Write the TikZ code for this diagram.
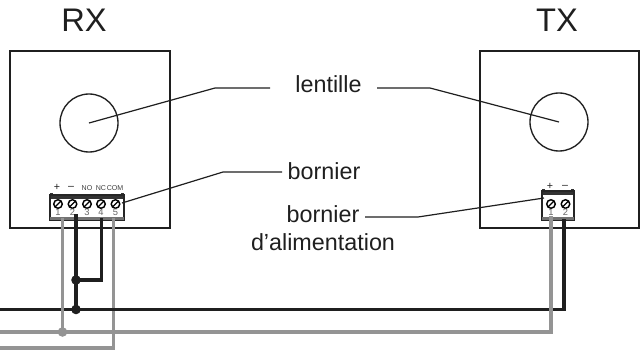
\documentclass[tikz,border=0pt]{standalone}
\usepackage{fontspec}
\setmainfont{Liberation Sans}
\tikzset{
 frame/.style={draw=black!88,line width=1.4pt,fill=white},
 lens/.style={draw=black!88,line width=1pt,fill=white,circle,minimum size=43.5pt,inner sep=0pt},
 lead/.style={draw=black!88,line width=0.9pt},
 blk/.style={draw=black!88,line width=2.9pt,line join=miter},
 gry/.style={draw=black!42,line width=2.9pt,line join=miter},
 lab/.style={font=\fontsize{17.5pt}{21pt}\selectfont,text=black!88,align=center,inner sep=0pt},
 big/.style={font=\fontsize{24.5pt}{28pt}\selectfont,text=black!88,inner sep=0pt},
 tiny/.style={font=\fontsize{5.3pt}{6pt}\selectfont,text=black!75,inner sep=0pt},
 sign/.style={font=\fontsize{8pt}{8pt}\selectfont,text=black!88,inner sep=0pt},
 num/.style={font=\fontsize{7pt}{8pt}\selectfont,text=black!60,inner sep=0pt},
 dot/.style={circle,fill=black!88,inner sep=0pt,minimum size=7.2pt},
 gdot/.style={circle,fill=black!42,inner sep=0pt,minimum size=7.2pt},
 screw/.style={circle,draw=black,line width=1.1pt,fill=white,inner sep=0pt,minimum size=6.4pt,
   path picture={\draw[black,line width=0.9pt] (path picture bounding box.south west) -- (path picture bounding box.north east);}},
}
\newcommand{\blockbody}[4]{% xl,xr,top,bottom
 \fill[white] (#1,#3) rectangle (#2,#4);
 \fill[black!80] (#1,#3+2) rectangle (#2,#3+6);
 \fill[black!80] (#1,#3) rectangle (#1+3,#3+4);
 \fill[black!80] (#2-3,#3) rectangle (#2,#3+4);
 \draw[black!85,line width=0.8pt] (#1,#3+2) rectangle (#2,#4);
 \fill[black!55] (#1,#4-3) rectangle (#2,#4);
}
\begin{document}
\begin{tikzpicture}[x=0.75pt,y=-0.75pt]
\useasboundingbox (0,0) rectangle (644,351);
\node[frame,minimum width=119.75pt,minimum height=133pt,inner sep=0pt,anchor=north west] (rx) at (9,50) {};
\node[frame,minimum width=119.25pt,minimum height=133pt,inner sep=0pt,anchor=north west] (tx) at (479,50) {};
\node[big] (rxl) at (84,20.5) {RX};
\node[big] (txl) at (557,20.5) {TX};
\node[lens] (lr) at (89,123) {};
\node[lens] (lt) at (559,122) {};
\coordinate (lrc) at (89,123);
\coordinate (ltc) at (559,122);
\node[lab] (len) at (328.5,84) {lentille};
\node[lab] (bor) at (324,171) {bornier};
\node[lab] (ali) at (323,228.5) {bornier\\d'alimentation};
\coordinate (a1) at (215,88);
\coordinate (a2) at (270,88);
\coordinate (b1) at (377,88);
\coordinate (b2) at (430,88);
\draw[lead] (lrc) -- (a1) -- (a2);
\draw[lead] (b1) -- (b2) -- (ltc);
% terminal blocks
\blockbody{50}{124}{193}{220}
\blockbody{542}{574}{189}{220}
\foreach \x/\n in {58/1,72.5/2,87/3,101/4,115.5/5}{
 \node[screw] at (\x,204) {};
 \node[num] at (\x,212.5) {\n};
}
\foreach \x/\n in {551/1,565.5/2}{
 \node[screw] at (\x,204) {};
 \node[num] at (\x,212.5) {\n};
}
\node[sign] at (57,187) {+};
\node[sign] at (71,188) {--};
\node[tiny] at (87,188.5) {NO};
\node[tiny] at (101,188.5) {NC};
\node[tiny] at (115,188.5) {COM};
\node[sign] at (550,186) {+};
\node[sign] at (565,187) {--};
\coordinate (c1) at (122,203);
\coordinate (c2) at (223,172);
\coordinate (c3) at (282,172);
\draw[lead] (c1) -- (c2) -- (c3);
\coordinate (d1) at (365,217);
\coordinate (d2) at (418,217);
\coordinate (d3) at (544,198);
\draw[lead] (d1) -- (d2) -- (d3);
% wires
\coordinate (k1) at (0,309.5);
\coordinate (k2) at (564,309.5);
\coordinate (k3) at (564,219);
\coordinate (k4) at (76,214);
\coordinate (k5) at (76,309.5);
\coordinate (k6) at (76,280);
\coordinate (k7) at (101.5,280);
\coordinate (k8) at (101.5,218);
\coordinate (g1) at (0,332);
\coordinate (g2) at (551,332);
\coordinate (g3) at (551,216);
\coordinate (g4) at (62.5,218);
\coordinate (g5) at (62.5,332);
\coordinate (g6) at (113.5,218);
\coordinate (g7) at (113.5,348);
\coordinate (g8) at (0,348);
\draw[gry] (g6) -- (g7) -- (g8);
\draw[blk] (k1) -- (k2) -- (k3);
\draw[blk] (k4) -- (k5);
\draw[blk] (k8) -- (k7) -- (k6);
\draw[gry] (g1) -- (g2) -- (g3);
\draw[gry] (g4) -- (g5);
\node[dot] (j1) at (k5) {};
\node[dot] (j2) at (k6) {};
\node[gdot] (j3) at (g5) {};
\end{tikzpicture}
\end{document}
